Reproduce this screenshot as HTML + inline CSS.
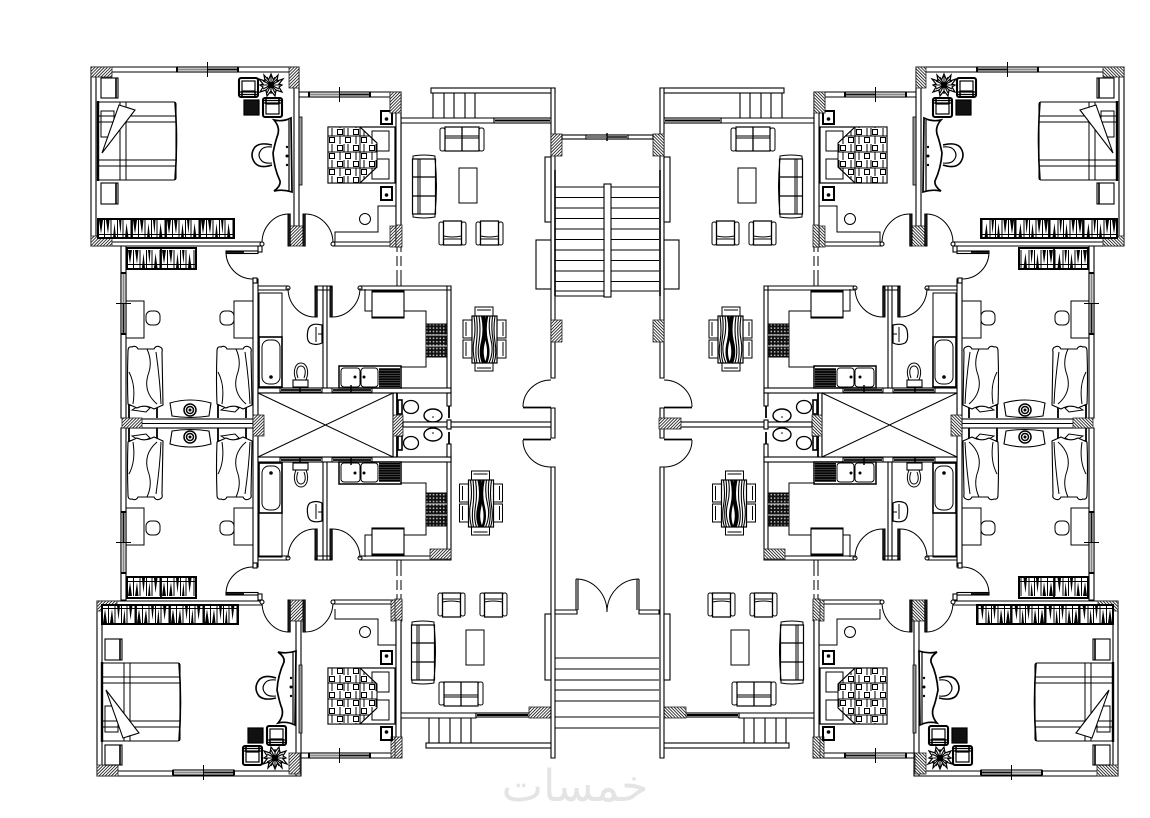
<!DOCTYPE html>
<html><head><meta charset="utf-8"><style>
html,body{margin:0;padding:0;background:#fff;width:1150px;height:818px;overflow:hidden}
svg{display:block}
path,rect,circle,ellipse,polyline,polygon,line{stroke:#000;stroke-width:1;fill:none}
.w{fill:#fff;stroke-width:1.1}
.h{fill:url(#hatch);stroke:#222;stroke-width:.8}
.b{fill:#000;stroke:none}
</style></head><body>
<svg width="1150" height="818" viewBox="0 0 1150 818" xmlns="http://www.w3.org/2000/svg">
<defs>
<pattern id="hatch" patternUnits="userSpaceOnUse" width="2.2" height="2.2" patternTransform="rotate(45)"><rect width="2.2" height="2.2" style="fill:#fff;stroke:none"/><line x1="0" y1="0" x2="0" y2="2.2" style="stroke:#000;stroke-width:1.5"/></pattern>
<pattern id="quilt" patternUnits="userSpaceOnUse" width="16" height="16"><rect width="16" height="16" style="fill:#fff;stroke:none"/><rect x="1.5" y="1.5" width="5" height="5" style="stroke:#000;stroke-width:1"/><rect x="9.5" y="9.5" width="5" height="5" style="stroke:#000;stroke-width:1"/><path d="M0 8H16M8 0V8M4 8V16M12 0V8" style="stroke:#000;stroke-width:1"/></pattern>
<pattern id="drain" patternUnits="userSpaceOnUse" width="3" height="2.4"><rect width="3" height="2.4" style="fill:#000;stroke:none"/><line x1="0" y1="1.2" x2="3" y2="1.2" style="stroke:#777;stroke-width:.6"/></pattern>
<pattern id="burn" patternUnits="userSpaceOnUse" width="3.4" height="3.4"><rect width="3.4" height="3.4" style="fill:#111;stroke:none"/><circle cx="1.7" cy="1.7" r=".8" style="fill:#ccc;stroke:none"/></pattern>

<g id="ru"><path d="M1 1H5L3 15ZM8 1L10 15L11.500 1ZM15 19L16.500 4L18 19ZM21 1H23.500L22.500 15ZM27 19L28.500 4L30.500 19Z" style="fill:#000;stroke:none"/><path d="M6.500 1V19M13 1V19M19.500 1V19M25 1V19M33 1V19"/><path d="M0 15.500H34" style="stroke:#000;stroke-width:.9"/></g>

<g id="win"><rect class="w" width="61" height="5"/><rect x="1" y="1.5" width="29" height="2" style="fill:#888;stroke:none"/><rect x="30" y="1.5" width="30" height="2" style="fill:#111;stroke:none"/><rect x="-1" y="0" width="2" height="5" class="b"/><rect x="60" y="0" width="2" height="5" class="b"/><path d="M30.5 -5V10"/></g>

<g id="s2"><rect x="0" y="1" width="5" height="23" rx="2"/><rect x="39" y="1" width="5" height="23" rx="2"/><rect x="5" y="0" width="34" height="24" style="stroke-width:1.2"/><path d="M22 0V24" style="stroke-width:1.3"/><path d="M5 9H39M5 11H39"/></g>
<g id="s3"><path d="M1 4V1Q12 -1 23 1V4"/><path d="M1 59V62Q12 64 23 62V59"/><path d="M23 4Q26 31 23 59" /><rect x="0.5" y="4" width="23" height="55" style="stroke-width:1.2"/><path d="M6 4V59M8 4V59"/><path d="M0.5 22H23.5M0.5 41H23.5" style="stroke-width:1.3"/></g>
<g id="ac"><rect x="0" y="1" width="4.5" height="23" rx="2"/><rect x="22.5" y="1" width="4.5" height="23" rx="2"/><path d="M4.5 24V0H22.5V24Z" style="stroke-width:1.3"/><path d="M4.5 15Q13 17 22.5 15M4.5 18H22.5"/></g>

<g id="din">
<rect x="475" y="307" width="18" height="9"/><path d="M477 310H491"/>
<rect x="475" y="363" width="18" height="8"/><path d="M477 368H491"/>
<rect x="463" y="320" width="9" height="18"/><rect x="463" y="340" width="9" height="18"/>
<rect x="497" y="320" width="9" height="18"/><rect x="497" y="340" width="9" height="18"/>
<path d="M466 322V336M466 342V356M503 322V336M503 342V356"/>
<rect x="472" y="316" width="25" height="47" style="fill:#fff;stroke-width:1.200"/>
<path d="M474 316Q476 330 474 340T475 363M476.500 316Q478 330 476.500 342T477 363M479 316Q481 330 479 342T480 363M495 316Q493 330 495 342T494 363M492.500 316Q491 328 493 340T492 363M490 316Q488 328 491 340T489 363" style="stroke-width:1.100"/>
<path d="M483 316Q486 330 483 342T484 363" style="stroke-width:4"/>
<path d="M487 316Q484 330 487 342T486 363" style="stroke-width:2.500"/>
</g>

<g id="chair"><rect x="1" y="1" width="19" height="19" rx="2" style="stroke-width:2.100"/><rect x="4" y="4" width="13" height="10" style="stroke-width:1.200"/><path d="M1 15H20M1 17.5H20" style="stroke-width:1.300"/><path d="M4 14V21M17 14V21" style="stroke-width:1.600"/></g>

<g id="F">
<rect x="101" y="78" width="17" height="20" style="stroke-width:1.1"/><path d="M116 78V98" style="stroke-width:1.6"/>
<rect x="101" y="183" width="17" height="21" style="stroke-width:1.1"/><path d="M116 183V204" style="stroke-width:1.6"/>
<rect x="98" y="102" width="78" height="78" rx="2" style="stroke-width:1.1"/>
<path d="M98 101V181" style="stroke-width:2.4"/><path d="M175 102Q178 141 175 180" style="stroke-width:1.6"/>
<path d="M98 116H176M98 122H176M98 160H176M98 166H176M120 102V180M126 102V180"/>
<path d="M101 111H114V137H101Z"/>
<polygon points="119,105 135,110 102,153" class="w"/>
<rect x="98" y="219" width="136" height="19" style="fill:#fff;stroke-width:2"/>
<use href="#ru" x="98" y="219"/><use href="#ru" x="132" y="219"/><use href="#ru" x="166" y="219"/><use href="#ru" x="200" y="219"/>
<path d="M132 219V238M166 219V238M200 219V238" style="stroke-width:1.800"/>
<path d="M274 120Q283 122 291 118L292 192Q283 189 274 191Q281 186 280 181Q274 168 273 153Q275 143 277 137Q281 128 274 120Z" class="w" style="stroke-width:1.700"/>
<path d="M289 120V191" style="stroke-width:1.200"/><circle cx="287" cy="147" r="1.200" class="b"/><circle cx="287" cy="156" r="1.500" class="b"/><circle cx="287" cy="165" r="1.200" class="b"/>
<path d="M272 145Q260 142 255 147Q249 155 255 163Q260 169 272 165" style="stroke-width:1.600"/>
<path d="M272 147Q264 146 261 150Q257 155 261 160Q264 164 272 163" style="stroke-width:1.100"/>
<use href="#chair" x="238" y="77"/>
<use href="#chair" transform="translate(283 118) rotate(180)"/>
<rect x="244" y="100" width="15" height="15" style="fill:#111;stroke-width:1.200"/>
<polygon points="271,74 273.5,80 278,75 277,81 283,79 279,84 282,85 279,87 282,92 276,90 275,96 271,91 267,96 266,90 260,92 263,87 260,85 263,84 259,79 265,81 264,75 268.500,80" style="stroke-width:1.200;fill:#fff"/>
<path d="M271 76V94M262 85H280M265 79L277 91M277 79L265 91M267 77L275 93M275 77L267 93M263 81L279 89M279 81L263 89" style="stroke-width:1.100"/>
<circle cx="271" cy="85" r="3" class="b"/>
</g>

<g id="R">
<rect x="328" y="127" width="67" height="56" style="stroke-width:1.2"/>
<rect x="372" y="131" width="17" height="20"/><rect x="372" y="159" width="17" height="20"/>
<polygon points="328,127 360,127 377,143 377,167 360,183 328,183" style="fill:url(#quilt);stroke-width:1"/>
<path d="M360 127V183M360 127L377 143M360 183L377 167"/>
<rect x="381" y="111" width="11" height="13" style="stroke-width:2"/><circle cx="386.500" cy="119" r="1.800" class="b"/>
<rect x="381" y="187" width="11" height="13" style="stroke-width:2"/><circle cx="386.500" cy="195" r="1.800" class="b"/>
<path d="M396 206H378V232H335V242"/>
<circle cx="365" cy="219" r="5.500"/>
</g>

<g id="A">
<path class="w" d="M121 246H126V418H121Z"/>
<use href="#win" transform="translate(126 273) rotate(90)"/>
<rect x="127" y="248" width="69" height="21" style="fill:#fff;stroke-width:2"/>
<use href="#ru" transform="translate(127 249)"/><use href="#ru" transform="translate(161 249)"/>
<path d="M161 248V269" style="stroke-width:1.800"/>
<path class="w" d="M253 279H258V418H253Z"/>
<rect x="253" y="278" width="4" height="5" class="w"/>
<path d="M226 252A27 27 0 0 0 253 279"/><rect x="226" y="251" width="32" height="2.500" class="w"/><path d="M226 252H244" style="stroke-width:1.8"/>
<rect x="258" y="246" width="4" height="6" class="w"/>
<rect x="126" y="301" width="18" height="37"/><rect x="146" y="311" width="14" height="14" rx="5"/>
<rect x="234" y="301" width="19" height="37"/><rect x="220" y="311" width="14" height="14" rx="5"/>
<g id="kb">
<path d="M129 418V405H157V418" style="stroke-width:1.800"/>
<path d="M132 410L142 404L150 408L146 412Z"/>
<path d="M128 351Q128 346 132 347Q136 345 138 349H154Q156 345 160 347Q163 348 162 352L163 405L154 409Q145 404 137 408L128 404Q127 380 128 351Z" class="w" style="stroke-width:1.100"/>
<path d="M147 349Q153 362 148 375Q143 392 157 404M156 352Q160 380 161 404M129 372Q136 385 133 404"/>
</g>
<use href="#kb" x="89"/>
<path class="w" d="M258 286H288V290H258ZM315 286H332V290H315ZM360 286H451V290H360ZM323 286H327V388H323ZM447 286H451V393H447Z"/>
<circle cx="288" cy="288" r="2" class="w"/><circle cx="360" cy="288" r="2" class="w"/>
<rect x="315" y="287" width="2.200" height="30" style="fill:#222"/><rect x="330" y="287" width="2.200" height="30" style="fill:#222"/>
<path d="M315 317A27 29 0 0 1 288 288M332 317A28 29 0 0 0 360 288"/>
<path d="M322 325Q310 322 308 330Q306 340 310 343Q316 346 322 343Z" style="stroke-width:1.200"/><path d="M316 327V342M318 334H322" />
<path d="M365 289V311H372M404 311H426V324"/>
<rect x="372" y="291" width="32" height="27" class="w"/><path d="M372 291.500H404M372 317.500H404" style="stroke-width:2"/>
<path d="M397 247V252M397 256V266M397 270V286M401 247V252M401 256V266M401 270V286" />
</g>

<g id="B">
<rect x="258" y="388" width="193" height="5" class="w"/>
<path d="M258 290V388" />
<rect x="280" y="388" width="42" height="4" style="stroke-width:1"/><path d="M281 390H321" style="stroke-width:1.800"/><path d="M300 385V393" style="stroke-width:1.500"/>
<rect x="332" y="388" width="40" height="4"/><path d="M333 390H371" style="stroke-width:1.800"/><path d="M351 385V393" style="stroke-width:1.500"/>
<rect x="259" y="293" width="23" height="44"/>
<rect x="259" y="337" width="23" height="50" style="stroke-width:1.600"/>
<rect x="262" y="340" width="18" height="44" rx="7"/><circle cx="271" cy="377" r="1.800" class="b"/>
<path d="M296 380C292 370 296 363 301 363C306 363 310 370 306 380"/><path d="M298 378C295 370 298 366 301 366C304 366 307 370 304 378"/><rect x="293" y="380" width="15" height="7" class="w"/>
<rect x="339" y="366" width="62" height="22" style="stroke-width:1.500"/>
<rect x="341" y="368" width="19" height="19" rx="3"/><rect x="361" y="368" width="17" height="19" rx="3"/>
<circle cx="355" cy="377" r="1.500" class="b"/><circle cx="364" cy="377" r="1.500" class="b"/>
<rect x="379" y="368" width="21" height="19" style="fill:url(#drain);stroke:none"/>
<path d="M426 357V367H401"/>
<rect x="426" y="324" width="21" height="33" style="fill:url(#burn);stroke-width:1"/><path d="M426 335H447M426 346H447" style="stroke:#ddd;stroke-width:1"/>
<rect x="393" y="393" width="4" height="30" class="w"/><path d="M397 393V423" style="stroke-width:1.800"/>
<path d="M397 393H447"/>
<rect x="398" y="400" width="4" height="14" style="fill:#fff;stroke-width:1.600"/><ellipse cx="411" cy="407" rx="7.500" ry="6.500" style="stroke-width:1.300"/>
<ellipse cx="433" cy="415.500" rx="9" ry="6.500" style="stroke-width:1.400"/><circle cx="433" cy="417" r=".8" class="b"/>
<rect x="447" y="393" width="4" height="13" class="w"/><path d="M449 406V418" style="stroke-width:1.800"/>
</g>

<g id="half">
<path class="w" d="M91 67H299V72H91ZM91 67H96V246H91ZM294 67H299V226H294ZM91 242H262V246H91ZM299 92H396V97H299ZM396 92H401V247H396ZM333 242H401V246H333Z"/>
<rect x="91" y="67" width="21" height="10" class="h"/><rect x="91" y="236" width="21" height="10" class="h"/><rect x="289" y="67" width="10" height="21" class="h"/>
<rect x="390" y="92" width="11" height="21" class="h"/><rect x="390" y="226" width="11" height="21" class="h"/>
<rect x="289" y="226" width="14" height="20" class="h"/>
<use href="#win" x="177" y="67"/><use href="#win" x="309" y="92"/>
<rect x="299" y="117" width="3" height="68" style="fill:#999;stroke-width:.8"/>
<rect x="288" y="214" width="2.200" height="32" style="fill:#222"/><rect x="303" y="214" width="2.200" height="32" style="fill:#222"/>
<path d="M288 214A27 29 0 0 0 262 243M305 214A28 29 0 0 1 333 243"/>
<circle cx="262" cy="244" r="2" class="w"/><circle cx="333" cy="244" r="2" class="w"/>
<use href="#F"/>
<use href="#R"/>

<path class="w" d="M97 601H262V605H97ZM97 601H102V776H97ZM296 621H301V776H296ZM97 771H301V776H97ZM300 753H396V758H300ZM396 603H401V758H396ZM333 600H401V604H333Z"/>
<rect x="97" y="601" width="20" height="10" class="h"/><rect x="97" y="765" width="21" height="11" class="h"/><rect x="289" y="753" width="11" height="21" class="h"/>
<rect x="391" y="600" width="11" height="21" class="h"/><rect x="391" y="737" width="11" height="21" class="h"/>
<rect x="289" y="600" width="14" height="21" class="h"/>
<use href="#win" x="173" y="770"/><use href="#win" x="309" y="753"/>
<rect x="299" y="665" width="3" height="68" style="fill:#999;stroke-width:.8"/>
<rect x="288" y="600" width="2.200" height="32" style="fill:#222"/><rect x="303" y="600" width="2.200" height="32" style="fill:#222"/>
<path d="M289 632A27 30 0 0 1 262 602M305 632A28 30 0 0 0 333 602"/>
<circle cx="262" cy="602" r="2" class="w"/><circle cx="333" cy="602" r="2" class="w"/>
<use href="#F" transform="translate(4 843) scale(1 -1)"/>
<use href="#R" transform="translate(0 851) scale(1 -1)"/>

<use href="#A"/><use href="#A" transform="translate(0 846) scale(1 -1)"/>
<use href="#B"/><use href="#B" transform="translate(0 850) scale(1 -1)"/>
<rect x="430" y="549" width="21" height="10" class="h"/>
<rect x="126" y="419" width="127" height="9" class="w"/>
<path d="M126 423.500H253"/>
<rect x="122" y="418" width="20" height="10" class="h"/>
<rect x="258" y="393" width="135" height="64" class="w"/>
<path d="M258 393L393 457M393 393L258 457"/>
<rect x="253" y="415" width="11" height="21" class="h"/><rect x="393" y="415" width="10" height="21" class="h"/>
<rect x="403" y="422" width="149" height="5" class="w"/>
<rect x="447" y="420" width="4" height="9" class="w"/>
<g id="ns"><path d="M170 403Q190 397 211 403L209 416Q190 419 172 416Z" style="stroke-width:1.100"/><circle cx="190" cy="410" r="6" style="stroke-width:1.500"/><circle cx="190" cy="410" r="3.500" style="stroke-width:1.500"/><circle cx="190" cy="410" r="1.500" class="b"/></g>
<use href="#ns" transform="translate(0 847) scale(1 -1)"/>

<path class="w" d="M396 92H401V247H396ZM401 118H494V123H401Z"/>
<rect x="390" y="92" width="11" height="21" class="h"/><rect x="396" y="225" width="6" height="22" class="h"/>
<rect x="494" y="118" width="57" height="5" class="w"/><path d="M495 120.500H550" style="stroke-width:2"/>
<rect x="431" y="88" width="124" height="5" class="w"/>
<path d="M433 93V118M444 93V118M454 93V118M465 93V118M475 93V118" style="stroke-width:1.100"/>
<use href="#s2" x="440" y="127"/><use href="#s3" x="412" y="155"/>
<rect x="459" y="168" width="18" height="35"/>
<use href="#ac" x="439" y="221"/><use href="#ac" x="476" y="221"/>
<use href="#din"/><use href="#din" x="-3.500" y="164"/>

<path class="w" d="M396 603H401V758H396ZM401 713H476V718H401Z"/>
<rect x="395" y="599" width="7" height="21" class="h"/><rect x="395" y="737" width="7" height="21" class="h"/>
<rect x="476" y="713" width="53" height="4" class="w"/><path d="M477 715H528" style="stroke-width:2"/>
<rect x="529" y="707" width="22" height="11" class="h"/>
<rect x="426" y="743" width="126" height="5" class="w"/>
<path d="M429 718V743M439 718V743M450 718V743M461 718V743M471 718V743" style="stroke-width:1.100"/>
<use href="#ac" transform="translate(438 617) scale(1 -1)"/><use href="#ac" transform="translate(480 617) scale(1 -1)"/>
<use href="#s3" x="411" y="621"/>
<rect x="466" y="630" width="18" height="35"/>
<use href="#s2" transform="translate(439 706) scale(1 -1)"/>

<path class="w" d="M551 88H555V378H551ZM551 408H555V438H551ZM551 467H555V758H551Z"/>
<path d="M555 170V296" style="stroke-width:1.600"/>
<rect x="551" y="134" width="11" height="22" class="h"/><rect x="551" y="320" width="11" height="22" class="h"/>
<path d="M551 380A28 27 0 0 0 523 407M551 467A28 27 0 0 1 523 440"/>
<path d="M523 407.500H551M523 439.500H551" style="stroke-width:1.800"/>
<rect x="545" y="157" width="6" height="65" class="w"/><rect x="536" y="240" width="15" height="49" class="w"/>
<rect x="545" y="614" width="6" height="66" class="w"/>
</g>
</defs>

<use href="#half"/>
<use href="#half" transform="translate(1215 0) scale(-1 1)"/>

<rect x="562" y="135" width="91" height="4" class="w"/>
<rect x="586" y="135" width="42" height="4" class="w"/><path d="M587 137H606" style="stroke:#777;stroke-width:2"/><path d="M607 137H627" style="stroke-width:1.600"/><path d="M607 133V141" style="stroke-width:1.500"/>
<path d="M555 187H659M555 197.500H659M555 208H659M555 218.500H659M555 229H659M555 239.500H659M555 250H659M555 260.500H659M555 271H659M555 281.500H659M555 291H659" style="stroke-width:1.100"/>
<path d="M555 296H604" />
<rect x="604" y="184" width="7" height="113" class="w"/>
<rect x="659" y="418" width="22" height="11" class="h"/>

<path class="w" d="M555 610H577V614H555ZM639 610H659V614H639Z"/>
<path d="M576 579V610M578 579V610M637 579V610M639 579V610" style="stroke-width:1.100"/>
<path d="M576 579A31 33 0 0 1 607 612M639 579A32 33 0 0 0 607 612" />
<path d="M555 658H659M555 669H659M555 680H659M555 690H659M555 701H659M555 717H659M555 728H659" style="stroke-width:1.100"/>

<text x="575" y="801" text-anchor="middle" style="font-family:'DejaVu Sans','Liberation Sans',sans-serif;font-size:44px;fill:#e4e4e4;stroke:none">خمسات</text>
</svg>
</body></html>
